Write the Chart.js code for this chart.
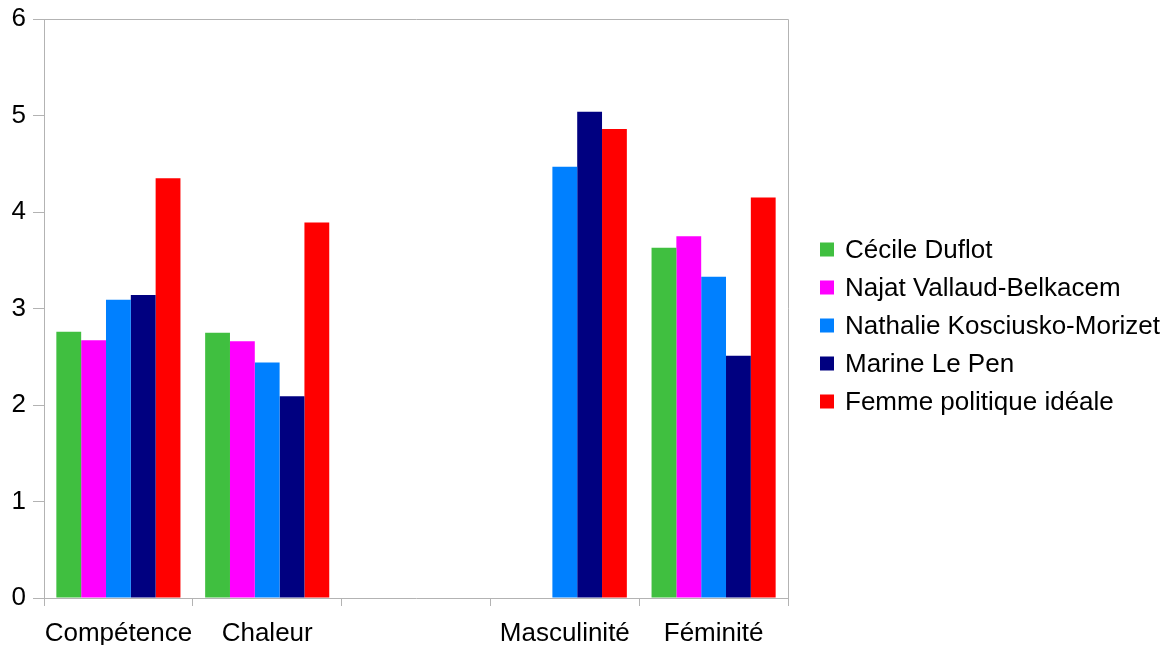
<!DOCTYPE html>
<html>
<head>
<meta charset="utf-8">
<script src="https://cdn.jsdelivr.net/npm/chart.js@4/dist/chart.umd.min.js"></script>
<style>
  html, body { margin: 0; padding: 0; background: #fff; }
  #wrap { width: 1170px; height: 645px; }
</style>
</head>
<body>
<div id="wrap"><canvas id="chart"></canvas></div>
<script>
// categories (third one is an empty slot in the original sheet)
const categories = ["Compétence", "Chaleur", "", "Masculinité", "Féminité"];

const duflot = [2.76, 2.75, null, null, 3.63];
const vallaud = [2.67, 2.66, null, null, 3.75];
const nkm = [3.09, 2.44, null, 4.47, 3.33];
const lepen = [3.14, 2.09, null, 5.04, 2.51];
const ideale = [4.35, 3.89, null, 4.86, 4.15];

const seriesNames = ["Cécile Duflot", "Najat Vallaud-Belkacem", "Nathalie Kosciusko-Morizet", "Marine Le Pen", "Femme politique idéale"];
const seriesColors = ["#40bf40", "#ff00ff", "#0080ff", "#000080", "#ff0000"];

const FONT = "'Liberation Sans', Arial, sans-serif";
const AXIS = "#b3b3b3";

// frame on top/right of the plot, like the calc chart
const frame = {
  id: "frame",
  beforeDatasetsDraw(chart) {
    const { ctx, chartArea: a } = chart;
    ctx.save();
    ctx.strokeStyle = AXIS;
    ctx.lineWidth = 1;
    ctx.beginPath();
    ctx.moveTo(a.left, a.top + 0.5);
    ctx.lineTo(a.right + 0.5, a.top + 0.5);
    ctx.lineTo(a.right + 0.5, a.bottom);
    ctx.stroke();
    ctx.restore();
  }
};

// legend on the right, square markers
const sideLegend = {
  id: "sideLegend",
  afterDraw(chart) {
    const { ctx, chartArea: a } = chart;
    const sets = chart.data.datasets;
    const rowH = 38, box = 14;
    const x = a.right + 32;
    let y = chart.height / 2 + 3 - (sets.length - 1) * rowH / 2;
    ctx.save();
    ctx.font = "26px " + FONT;
    ctx.textBaseline = "middle";
    sets.forEach(ds => {
      ctx.fillStyle = ds.backgroundColor;
      ctx.fillRect(x, y - box / 2, box, box);
      ctx.fillStyle = "#000";
      ctx.fillText(ds.label, x + 25, y + 1);
      y += rowH;
    });
    ctx.restore();
  }
};

const datasets = [duflot, vallaud, nkm, lepen, ideale].map((d, i) => ({
  label: seriesNames[i],
  data: d,
  backgroundColor: seriesColors[i],
  borderWidth: 0,
  categoryPercentage: 0.834,
  barPercentage: 1
}));

new Chart(document.getElementById("chart"), {
  type: "bar",
  data: { labels: categories, datasets },
  options: {
    responsive: true,
    maintainAspectRatio: false,
    animation: false,
    layout: { padding: { top: 19, right: 382, left: 0, bottom: 0 } },
    plugins: { legend: { display: false }, tooltip: { enabled: false } },
    scales: {
      x: {
        grid: { offset: true, drawOnChartArea: false, color: AXIS, tickLength: 8 },
        border: { color: AXIS },
        ticks: { color: "#000", font: { family: FONT, size: 26 }, padding: 12, maxRotation: 0, autoSkip: false },
        afterFit(s) { s.height = 47; }
      },
      y: {
        min: 0,
        max: 6,
        grid: { drawOnChartArea: false, color: AXIS, tickLength: 11 },
        border: { color: AXIS },
        ticks: { stepSize: 1, color: "#000", font: { family: FONT, size: 26 }, padding: 7 },
        afterFit(s) { s.width = 44; s.paddingTop = 0; s.paddingBottom = 0; }
      }
    }
  },
  plugins: [frame, sideLegend]
});
</script>
</body>
</html>
